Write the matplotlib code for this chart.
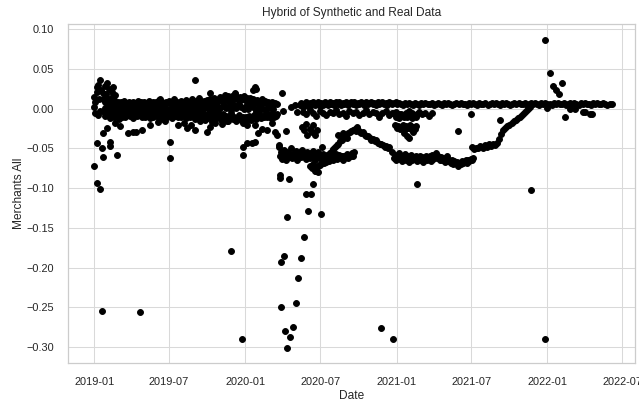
import numpy as np
import pandas as pd
import matplotlib
matplotlib.use("Agg")
import matplotlib.pyplot as plt
import matplotlib.dates as mdates
import seaborn as sns

# --- main band near zero, 2019 to early 2020 (every 4 days) ---
upper_start = "2019-01-22"
upper_vals = [
    0.012, 0.009, 0.014, 0.007, 0.010, 0.006, 0.008, 0.011, 0.005, 0.009,
    0.006, 0.008, 0.004, 0.010, 0.007, 0.005, 0.009, 0.006, 0.008, 0.004,
    0.007, 0.010, 0.005, 0.008, 0.006, 0.009, 0.004, 0.007, 0.010, 0.006,
    0.008, 0.005, 0.009, 0.007, 0.011, 0.006, 0.008, 0.004, 0.009, 0.007,
    0.010, 0.006, 0.008, 0.012, 0.007, 0.009, 0.005, 0.010, 0.008, 0.006,
    0.011, 0.007, 0.009, 0.006, 0.012, 0.008, 0.010, 0.007, 0.013, 0.009,
    0.006, 0.010, 0.008, 0.011, 0.007, 0.012, 0.009, 0.014, 0.010, 0.008,
    0.012, 0.015, 0.010, 0.013, 0.017, 0.011, 0.014, 0.009, 0.016, 0.012,
    0.018, 0.013, 0.010, 0.015, 0.012, 0.016, 0.011, 0.014, 0.009, 0.013,
    0.010, 0.012, 0.008, 0.011, 0.007, 0.009, 0.012, 0.008, 0.010, 0.006,
    0.009, 0.005, 0.008, 0.004, 0.007, 0.006,
]
lower_start = "2019-01-24"
lower_vals = [
    -0.004, -0.009, -0.002, -0.007, -0.012, -0.005, -0.010, -0.003, -0.008, -0.013,
    -0.006, -0.010, -0.004, -0.011, -0.007, -0.002, -0.009, -0.005, -0.012, -0.006,
    -0.009, -0.003, -0.008, -0.011, -0.005, -0.010, -0.004, -0.008, -0.012, -0.006,
    -0.010, -0.003, -0.007, -0.011, -0.005, -0.009, -0.013, -0.006, -0.010, -0.004,
    -0.008, -0.012, -0.005, -0.009, -0.003, -0.011, -0.007, -0.010, -0.004, -0.008,
    -0.012, -0.006, -0.010, -0.005, -0.009, -0.013, -0.007, -0.011, -0.004, -0.009,
    -0.006, -0.011, -0.008, -0.012, -0.005, -0.010, -0.007, -0.013, -0.009, -0.006,
    -0.010, -0.014, -0.007, -0.012, -0.009, -0.015, -0.011, -0.006, -0.013, -0.010,
    -0.016, -0.012, -0.008, -0.014, -0.010, -0.015, -0.011, -0.013, -0.009, -0.014,
    -0.011, -0.008, -0.013, -0.010, -0.006, -0.012, -0.009, -0.011, -0.007, -0.010,
    -0.008, -0.012, -0.006, -0.010, -0.009, -0.007,
]
mid_start = "2019-01-26"
mid_vals = [
    0.001, -0.002, 0.003, 0.000, -0.001, 0.002, -0.003, 0.001, 0.004, -0.001,
    0.002, -0.002, 0.000, 0.003, -0.001, 0.001, -0.003, 0.002, 0.000, 0.004,
    -0.002, 0.001, 0.003, -0.001, 0.002, 0.000, -0.003, 0.001, 0.003, -0.002,
    0.000, 0.002, -0.001, 0.004, 0.001, -0.002, 0.003, 0.000, 0.002, -0.001,
    0.001, 0.003, -0.002, 0.002, 0.000, 0.004, -0.001, 0.002, 0.005, 0.001,
    0.003, -0.002, 0.004, 0.001, 0.006, 0.002, -0.001, 0.003, 0.000, 0.005,
    0.002, -0.003, 0.001, 0.004, 0.000, -0.002, 0.001, 0.003, -0.001,
]

# --- flat line from mid 2020 on ---
flat1_start = "2020-05-12"
flat1_vals = [
    0.004, 0.007, 0.002, 0.006, 0.008, 0.003, 0.007, 0.005, 0.009, 0.004,
    0.006, 0.008, 0.003, 0.007, 0.005, 0.009, 0.006, 0.004, 0.008, 0.006,
    0.007, 0.005, 0.009, 0.006, 0.008, 0.004, 0.007, 0.006, 0.008, 0.005,
    0.007, 0.009, 0.006, 0.008, 0.005, 0.007, 0.006, 0.008, 0.007, 0.005,
    0.008, 0.006, 0.007, 0.009, 0.006, 0.007, 0.005, 0.008, 0.006, 0.007,
    0.008, 0.006, 0.007, 0.005, 0.008, 0.007, 0.006, 0.007, 0.008,
]
flat2_start = "2021-01-01"
flat2_vals = [
    0.006, 0.007, 0.006, 0.005, 0.007, 0.006, 0.007, 0.006, 0.005, 0.007,
    0.006, 0.005, 0.007, 0.006, 0.007, 0.006, 0.006, 0.007, 0.005, 0.006,
    0.007, 0.006, 0.005, 0.007, 0.006, 0.007, 0.006, 0.005, 0.006, 0.007,
    0.006, 0.007, 0.006, 0.006, 0.005, 0.007, 0.006, 0.007, 0.006, 0.005,
    0.007, 0.006, 0.006, 0.007, 0.005, 0.006, 0.007, 0.006, 0.007, 0.006,
    0.005, 0.007, 0.006, 0.007, 0.006, 0.005, 0.006, 0.007, 0.006, 0.007,
    0.006, 0.006, 0.007, 0.005, 0.006, 0.007, 0.006, 0.007, 0.006, 0.005,
    0.007, 0.006, 0.007, 0.006, 0.006, 0.005, 0.007, 0.006, 0.007, 0.006,
    0.006, 0.007, 0.005, 0.006, 0.007, 0.006, 0.007, 0.006, 0.005, 0.007,
    0.006, 0.007, 0.006, 0.006, 0.005, 0.007, 0.006, 0.007, 0.006, 0.006,
    0.007, 0.006, 0.005, 0.006, 0.006,
]
rough_start = "2020-05-20"
rough_vals = [
    -0.004, -0.007, -0.002, -0.006, -0.009, -0.003, -0.005, -0.008, -0.004, -0.006,
    -0.002, -0.007, -0.005, -0.009, -0.003, -0.006, -0.004, -0.008, -0.005, -0.002,
    -0.007, -0.004, -0.006, -0.010, -0.005, -0.003, -0.008, -0.006, -0.004, -0.007,
    -0.009, -0.005, -0.003, -0.006, -0.008, -0.004, -0.007, -0.005, -0.009, -0.006,
]

# --- lower bands ---
band1_start = "2020-03-22"
band1_vals = [
    -0.048, -0.060, -0.055, -0.063, -0.052, -0.058, -0.065, -0.054, -0.061, -0.057,
    -0.050, -0.062, -0.056, -0.059, -0.053, -0.064, -0.058, -0.055, -0.061, -0.052,
    -0.060, -0.057, -0.063, -0.054, -0.059, -0.062, -0.056, -0.060, -0.053, -0.065,
    -0.058, -0.061, -0.055, -0.062, -0.059, -0.064, -0.057, -0.060, -0.063, -0.058,
    -0.061, -0.056, -0.062, -0.059, -0.064, -0.060, -0.057, -0.063, -0.061, -0.058,
    -0.062, -0.060, -0.064, -0.059, -0.061, -0.057, -0.062, -0.058, -0.060, -0.056,
    -0.059, -0.055,
]
diag1_start = "2020-07-12"
diag1_vals = [
    -0.063, -0.060, -0.058, -0.056, -0.053, -0.051, -0.048, -0.046, -0.044, -0.041,
    -0.039, -0.037, -0.035, -0.033, -0.031, -0.030, -0.028, -0.027, -0.026, -0.028,
    -0.027, -0.029, -0.031, -0.030, -0.033, -0.035, -0.034, -0.037, -0.039, -0.038,
    -0.041, -0.040, -0.043, -0.045, -0.044, -0.046, -0.048, -0.047, -0.049, -0.048,
]
band3_start = "2020-12-22"
band3_vals = [
    -0.055, -0.062, -0.058, -0.065, -0.060, -0.056, -0.063, -0.059, -0.066, -0.061,
    -0.057, -0.064, -0.060, -0.067, -0.062, -0.058, -0.065, -0.061, -0.063, -0.059,
    -0.066, -0.062, -0.060, -0.064, -0.061, -0.067, -0.063, -0.059, -0.065, -0.062,
    -0.060, -0.066, -0.058, -0.063, -0.061, -0.056, -0.062, -0.059, -0.064, -0.061,
    -0.065, -0.062, -0.067, -0.063, -0.060, -0.066, -0.064, -0.068, -0.065, -0.070,
    -0.066, -0.069, -0.067, -0.072, -0.068, -0.070, -0.066, -0.069, -0.067, -0.065,
    -0.068, -0.064, -0.066, -0.063, -0.065, -0.062,
]
diag2_start = "2021-07-03"
diag2_vals = [
    -0.048, -0.051, -0.049, -0.050, -0.047, -0.049, -0.046, -0.048, -0.045, -0.047,
    -0.044, -0.046, -0.043, -0.038, -0.032, -0.027, -0.024, -0.022, -0.020, -0.018,
    -0.016, -0.014, -0.012, -0.010, -0.008, -0.005, -0.003, -0.001, 0.002,
]
stripe1_start = "2020-12-26"
stripe1_vals = [-0.006, -0.010, -0.008, -0.012, -0.007, -0.009, -0.011, -0.008,
                -0.010, -0.006, -0.009, -0.012, -0.008, -0.010, -0.007]
stripe2_start = "2020-12-28"
stripe2_vals = [-0.021, -0.024, -0.022, -0.026, -0.023, -0.020, -0.025, -0.022,
                -0.024, -0.021, -0.026, -0.023, -0.025, -0.022]

# --- single points ---
point_dates = [
    # early 2019 cluster
    "2019-01-01", "2019-01-01", "2019-01-01", "2019-01-03", "2019-01-04", "2019-01-07",
    "2019-01-07", "2019-01-07", "2019-01-07", "2019-01-10", "2019-01-10", "2019-01-12",
    "2019-01-15", "2019-01-15", "2019-01-16", "2019-01-18", "2019-01-19", "2019-01-19",
    "2019-01-22", "2019-01-22", "2019-01-22", "2019-01-26", "2019-01-29", "2019-02-01",
    "2019-02-01", "2019-02-05", "2019-02-08", "2019-02-08", "2019-02-10", "2019-02-13",
    "2019-02-15", "2019-02-20", "2019-02-25",
    # 2019 below the band
    "2019-02-20", "2019-03-05", "2019-03-23", "2019-04-04", "2019-04-12", "2019-04-21",
    "2019-04-26", "2019-05-16", "2019-06-05", "2019-06-20", "2019-07-03", "2019-07-03",
    "2019-07-22", "2019-08-05", "2019-08-13", "2019-08-24", "2019-09-01", "2019-09-15",
    "2019-09-26", "2019-09-30", "2019-10-08", "2019-10-12", "2019-10-20", "2019-11-05",
    "2019-11-18", "2019-11-27", "2019-12-24", "2019-12-27", "2019-12-27", "2019-12-27",
    "2020-01-05", "2020-01-06", "2020-01-18", "2020-01-25", "2020-01-25", "2020-02-01",
    "2020-02-10", "2020-02-23", "2020-03-05", "2020-03-12", "2020-03-18", "2020-03-23",
    "2020-04-09",
    # above the band
    "2019-06-10", "2019-09-01", "2019-10-08", "2019-11-20", "2019-12-07", "2020-01-20",
    "2020-01-25", "2020-01-28", "2020-03-30", "2020-04-02", "2020-04-20", "2020-04-30",
    "2020-05-05",
    # spring 2020 drop
    "2020-03-25", "2020-03-25", "2020-03-27", "2020-03-28", "2020-04-05", "2020-04-06",
    "2020-04-11", "2020-04-12", "2020-04-16", "2020-04-19", "2020-04-25", "2020-05-02",
    "2020-05-08", "2020-05-15", "2020-05-23", "2020-05-26", "2020-05-31", "2020-06-08",
    "2020-06-12", "2020-06-20", "2020-06-27", "2020-07-03", "2020-07-09", "2020-07-15",
    "2020-07-21",
    # summer 2020
    "2020-05-18", "2020-05-22", "2020-05-26", "2020-05-30", "2020-06-05", "2020-06-10",
    "2020-06-14", "2020-06-18", "2020-06-23", "2020-06-05", "2020-06-10", "2020-06-14",
    "2020-06-18", "2020-06-22", "2020-06-26", "2020-06-30", "2020-07-04", "2020-07-05",
    "2020-08-13", "2020-08-25", "2020-09-03", "2020-09-27",
    # late 2020 and 2021
    "2020-11-25", "2020-12-24", "2021-01-20", "2021-01-26", "2021-02-01", "2021-02-10",
    "2021-02-20", "2021-05-30", "2021-07-01", "2021-09-08", "2021-11-22",
    # around 2022
    "2021-12-25", "2021-12-25", "2021-12-31", "2022-01-08", "2022-01-15", "2022-01-22",
    "2022-01-29", "2022-02-06", "2022-02-13", "2022-02-25", "2022-03-09", "2022-03-28",
    "2022-04-02", "2022-04-14", "2022-04-19",
]
point_vals = [
    0.002, -0.072, 0.015, -0.005, 0.008, -0.094,
    -0.043, 0.027, 0.021, 0.030, -0.008, 0.012,
    0.036, -0.101, -0.003, 0.024, -0.255, -0.050,
    -0.061, -0.031, 0.020, 0.028, 0.018, 0.032,
    -0.024, 0.025, -0.042, -0.047, 0.014, 0.021,
    0.027, 0.017, -0.058,
    -0.018, -0.022, -0.031, -0.029, -0.030, -0.256,
    -0.027, -0.021, -0.017, -0.015, -0.042, -0.062,
    -0.021, -0.018, -0.024, -0.020, -0.027, -0.016,
    -0.014, -0.029, -0.023, -0.017, -0.018, -0.019,
    -0.016, -0.179, -0.290, -0.018, -0.048, -0.058,
    -0.021, -0.043, -0.043, -0.042, -0.020, -0.031,
    -0.025, -0.027, -0.018, -0.029, -0.033, -0.046,
    -0.028,
    0.012, 0.036, 0.020, 0.016, 0.020, 0.023,
    0.027, 0.025, 0.020, -0.003, 0.002, 0.005,
    -0.004,
    -0.084, -0.087, -0.193, -0.250, -0.185, -0.280,
    -0.136, -0.301, -0.089, -0.287, -0.275, -0.245,
    -0.213, -0.188, -0.161, -0.108, -0.129, -0.108,
    -0.095, -0.079, -0.071, -0.133, -0.068, -0.067,
    -0.066,
    -0.023, -0.027, -0.019, -0.033, -0.025, -0.030,
    -0.021, -0.033, -0.027, -0.072, -0.075, -0.070,
    -0.078, -0.073, -0.080, -0.071, -0.069, -0.048,
    -0.033, -0.031, -0.037, -0.023,
    -0.276, -0.290, -0.031, -0.034, -0.037, -0.029,
    -0.095, -0.028, -0.007, -0.014, -0.103,
    0.087, -0.290, 0.001, 0.045, 0.028, 0.023,
    0.018, 0.032, -0.011, -0.001, -0.001, -0.004,
    -0.004, -0.007, -0.007,
]


def run(start, step, vals):
    return pd.date_range(start, periods=len(vals), freq=f"{step}D"), list(vals)


runs = [
    run(upper_start, 4, upper_vals),
    run(lower_start, 4, lower_vals),
    run(mid_start, 6, mid_vals),
    run(flat1_start, 4, flat1_vals),
    run(flat2_start, 5, flat2_vals),
    run(rough_start, 8, rough_vals),
    run(band1_start, 3, band1_vals),
    run(diag1_start, 4, diag1_vals),
    run(band3_start, 3, band3_vals),
    run(diag2_start, 5, diag2_vals),
    run(stripe1_start, 4, stripe1_vals),
    run(stripe2_start, 4, stripe2_vals),
    (pd.to_datetime(point_dates), point_vals),
]
dates = np.concatenate([np.asarray(d) for d, _ in runs])
values = np.concatenate([np.asarray(v, dtype=float) for _, v in runs])

sns.set_theme(style="whitegrid")
plt.rcParams["font.family"] = ["Liberation Sans", "DejaVu Sans"]

fig = plt.figure(figsize=(6.39, 4.05), dpi=100)
ax = fig.add_axes([0.106, 0.104, 0.888, 0.837])
ax.scatter(dates, values, s=18, color="black", linewidths=0.7, edgecolors="black", zorder=3)

ax.set_xlim(pd.Timestamp("2018-10-29"), pd.Timestamp("2022-08-01"))
ax.set_ylim(-0.320, 0.1067)
ax.xaxis.set_major_locator(mdates.MonthLocator(bymonth=[1, 7]))
ax.xaxis.set_major_formatter(mdates.DateFormatter("%Y-%m"))
ytick_vals = [-0.30, -0.25, -0.20, -0.15, -0.10, -0.05, 0.00, 0.05, 0.10]
ax.set_yticks(ytick_vals)
ax.set_yticklabels([f"{v:.2f}".replace("-", "\u2212") for v in ytick_vals])
ax.tick_params(labelsize=7.9, colors=".15", pad=4)
ax.grid(True, color=".85", linewidth=0.75)
for sp in ax.spines.values():
    sp.set_color(".8")
    sp.set_linewidth(0.9)

ax.set_title("Hybrid of Synthetic and Real Data", fontsize=8.6, color=".15", pad=6)
ax.set_xlabel("Date", fontsize=8.6, color=".15", labelpad=2)
ax.set_ylabel("Merchants All", fontsize=8.6, color=".15", labelpad=1)

fig.savefig("out.png", dpi=100)
